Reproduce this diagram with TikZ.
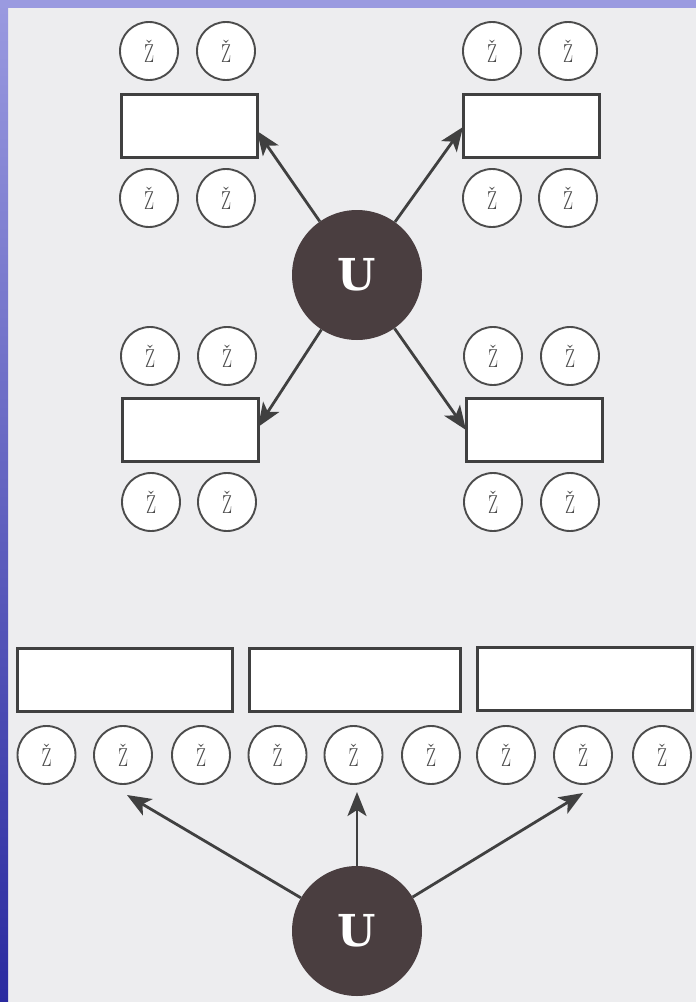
\documentclass[tikz,border=0pt]{standalone}
\usepackage{fontspec}
\usepackage{graphicx}
\usetikzlibrary{arrows.meta}
\newfontfamily\ufont{DejaVu Serif}
\definecolor{paper}{HTML}{EDEDEF}
\definecolor{stroke}{HTML}{404040}
\definecolor{ring}{HTML}{4C4C4C}
\definecolor{ufill}{HTML}{4A3E40}
\definecolor{bluelight}{HTML}{9A9AE0}
\definecolor{bluedark}{HTML}{2A2AA0}
\newcommand{\zlet}{\scalebox{0.68}[1]{Ž}}
\tikzset{
  zc/.style={circle, draw=ring, line width=1.9pt, fill=white, minimum size=58pt, inner sep=0pt,
    text=ring, font=\fontsize{26}{26}\selectfont},
  bx/.style={rectangle, draw=stroke, line width=3pt, fill=white, inner sep=0pt},
  smallbox/.style={bx, minimum width=136pt, minimum height=63pt},
  widebox/.style={bx, minimum width=215pt, minimum height=63pt},
  uc/.style={circle, fill=ufill, minimum size=130pt, inner sep=0pt, text=white,
    font=\ufont\bfseries\fontsize{44}{44}\selectfont},
  arr/.style={draw=stroke, line width=2.8pt, -{Stealth[length=24pt,width=19pt,inset=6pt]}}
}
\begin{document}
\begin{tikzpicture}[x=1pt,y=-1pt]
\useasboundingbox (0,0) rectangle (696,1002);
% background
\fill[paper] (0,0) rectangle (696,1002);
\shade[top color=bluelight, bottom color=bluedark] (0,0) rectangle (8,1002);
\fill[bluelight] (0,0) rectangle (696,8);

% top-left group
\node[zc] (tl1) at (149,51) {\zlet};
\node[zc] (tl2) at (226,51) {\zlet};
\node[smallbox] (tlb) at (189,125.5) {};
\node[zc] (tl3) at (149,198) {\zlet};
\node[zc] (tl4) at (226,198) {\zlet};
% top-right group
\node[zc] (tr1) at (492,51) {\zlet};
\node[zc] (tr2) at (568,51) {\zlet};
\node[smallbox] (trb) at (531,126) {};
\node[zc] (tr3) at (492,198) {\zlet};
\node[zc] (tr4) at (568,198) {\zlet};
% middle-left group
\node[zc] (ml1) at (150,356) {\zlet};
\node[zc] (ml2) at (227,356) {\zlet};
\node[smallbox] (mlb) at (190,430) {};
\node[zc] (ml3) at (151,502) {\zlet};
\node[zc] (ml4) at (227,502) {\zlet};
% middle-right group
\node[zc] (mr1) at (493,356) {\zlet};
\node[zc] (mr2) at (570,356) {\zlet};
\node[smallbox] (mrb) at (534,430) {};
\node[zc] (mr3) at (493,502) {\zlet};
\node[zc] (mr4) at (570,502) {\zlet};

% upper U
\node[uc] (U1) at (357,275) {U};
\coordinate (a1) at (257,131);
\coordinate (a2) at (463,127);
\coordinate (a3) at (258,427);
\coordinate (a4) at (466,430);
\draw[arr] (U1) -- (a1);
\draw[arr] (U1) -- (a2);
\draw[arr] (U1) -- (a3);
\draw[arr] (U1) -- (a4);

% bottom section
\node[widebox] (b1) at (125,679.5) {};
\node[bx, minimum width=211pt, minimum height=63pt] (b2) at (354.5,679.5) {};
\node[widebox] (b3) at (584.5,679) {};
\node[zc] (c1) at (46.5,755) {\zlet};
\node[zc] (c2) at (123,755) {\zlet};
\node[zc] (c3) at (201,755) {\zlet};
\node[zc] (c4) at (277.5,755) {\zlet};
\node[zc] (c5) at (353.5,755) {\zlet};
\node[zc] (c6) at (431,755) {\zlet};
\node[zc] (c7) at (506,755) {\zlet};
\node[zc] (c8) at (583,755) {\zlet};
\node[zc] (c9) at (662,755) {\zlet};

\node[uc] (U2) at (357,931) {U};
\coordinate (d1) at (127,795);
\coordinate (d2) at (357,792);
\coordinate (d3) at (583,793);
\draw[arr] (U2) -- (d1);
\draw[arr] (U2) -- (d2);
\draw[arr] (U2) -- (d3);
\end{tikzpicture}
\end{document}
